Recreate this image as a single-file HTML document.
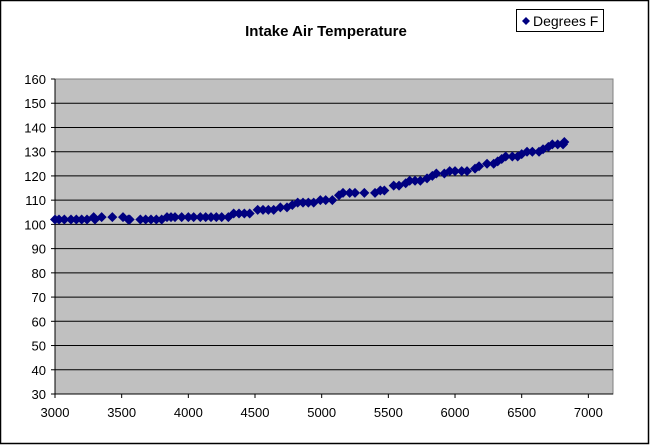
<!DOCTYPE html>
<html><head><meta charset="utf-8"><style>
body{margin:0;background:#fff}
svg{display:block;font-family:"Liberation Sans",Arial,sans-serif}
</style></head><body>
<svg id="s" width="652" height="445" xmlns="http://www.w3.org/2000/svg">
<rect x="0.5" y="0.5" width="648" height="443" fill="#fff" stroke="#000" stroke-width="1.5"/>
<text x="326" y="36" text-anchor="middle" font-size="15" font-weight="bold">Intake Air Temperature</text>
<rect x="516.5" y="9.5" width="87" height="22" fill="#fff" stroke="#000"/>
<path d="M522 21 L526 17 L530 21 L526 25 Z" fill="#000080"/>
<text x="533" y="26" font-size="14">Degrees F</text>
<rect x="55" y="79" width="558" height="315" fill="#c0c0c0" stroke="#808080"/>
<g id="g"></g>
<g id="m" fill="#000080"></g>
</svg>
<script>
var g=document.getElementById('g'),m=document.getElementById('m'),ns='http://www.w3.org/2000/svg';
function el(p,t,a,txt){var e=document.createElementNS(ns,t);for(var k in a)e.setAttribute(k,a[k]);if(txt)e.textContent=txt;p.appendChild(e);return e;}
function Y(v){return 79+(160-v)*315/130;}
function X(v){return 55+(v-3000)*66.67/500;}
for(var v=30;v<=160;v+=10){var y=Y(v);if(v<160&&v>30)el(g,'line',{x1:55,x2:613,y1:y,y2:y,stroke:'#000','stroke-width':1});
el(g,'line',{x1:51,x2:55,y1:y,y2:y,stroke:'#000'});el(g,'text',{x:46,y:y+5,'text-anchor':'end','font-size':13},''+v);}
el(g,'line',{x1:55,x2:55,y1:79,y2:398,stroke:'#000'});el(g,'line',{x1:55,x2:613,y1:394,y2:394,stroke:'#000'});
for(var x=3000;x<=7000;x+=500){var px=X(x);el(g,'line',{x1:px,x2:px,y1:394,y2:398,stroke:'#000'});el(g,'text',{x:px,y:417,'text-anchor':'middle','font-size':13},''+x);}
var d=[[3000,102],[3030,102],[3070,102],[3120,102],[3160,102],[3200,102],[3240,102],[3290,103],[3300,102],[3350,103],[3430,103],[3510,103],[3550,102],[3560,102],[3640,102],[3680,102],[3720,102],[3760,102],[3800,102],[3840,103],[3870,103],[3900,103],[3950,103],[4000,103],[4040,103],[4090,103],[4130,103],[4170,103],[4210,103],[4250,103],[4300,103],[4340,104.5],[4380,104.5],[4420,104.5],[4460,104.5],[4520,106],[4560,106],[4600,106],[4640,106],[4690,107],[4740,107],[4780,108],[4820,109],[4860,109],[4900,109],[4940,109],[4990,110],[5030,110],[5080,110],[5130,112],[5160,113],[5210,113],[5250,113],[5320,113],[5400,113],[5440,114],[5470,114],[5540,116],[5580,116],[5630,117],[5660,118],[5700,118],[5740,118],[5790,119],[5830,120],[5860,121],[5920,121],[5960,122],[6000,122],[6050,122],[6090,122],[6150,123],[6180,124],[6240,125],[6290,125],[6320,126],[6350,127],[6380,128],[6430,128],[6470,128],[6500,129],[6540,130],[6580,130],[6630,130],[6660,131],[6700,132],[6730,133],[6770,133],[6810,133],[6820,134]];
d.forEach(function(p){var x=X(p[0]),y=Y(p[1]);el(m,'path',{d:'M'+(x-5)+' '+y+'L'+x+' '+(y-5)+'L'+(x+5)+' '+y+'L'+x+' '+(y+5)+'Z'});});
</script>
</body></html>
